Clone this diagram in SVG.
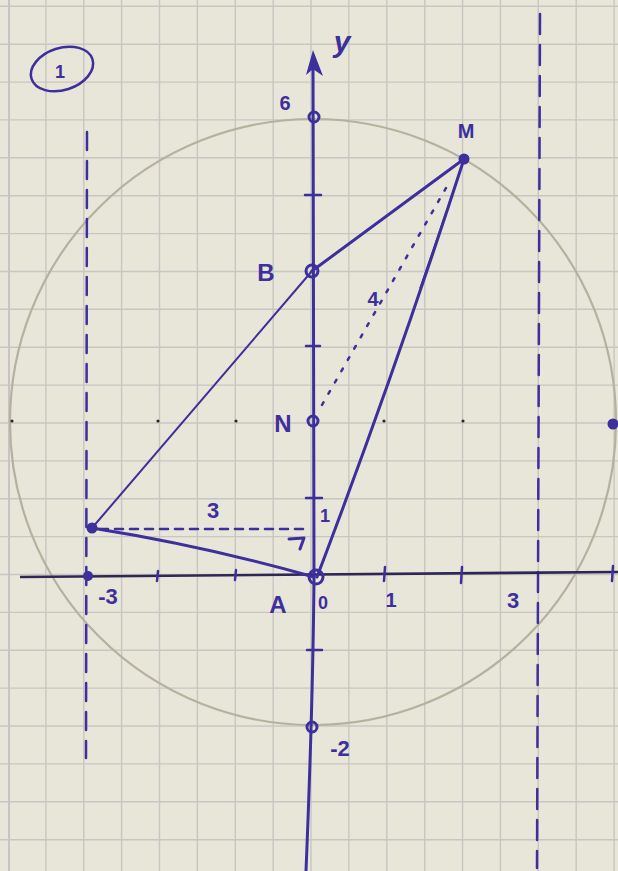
<svg xmlns="http://www.w3.org/2000/svg" width="618" height="871" viewBox="0 0 618 871">
<defs>
<style>
.grid{fill:none;stroke:#c8c6c0;stroke-width:1.4}
.ink{stroke:#3d2f9c;fill:none;stroke-linecap:round;stroke-linejoin:round}
.dot{fill:#3d2f9c}
.ring{fill:none;stroke:#3d2f9c;stroke-width:3}
.lbl{font-family:"Liberation Sans","DejaVu Sans",sans-serif;fill:#3d2f9c;text-anchor:middle;font-weight:bold}
.pen{fill:#2a2a2a}
</style>
</defs>
<rect width="618" height="871" fill="#e8e5d9"/>
<path class="grid" d="M45.9,0V871 M83.8,0V871 M121.6,0V871 M159.5,0V871 M197.4,0V871 M235.3,0V871 M273.2,0V871 M311,0V871 M348.9,0V871 M386.8,0V871 M424.7,0V871 M462.6,0V871 M500.4,0V871 M538.3,0V871 M576.2,0V871 M614.1,0V871
M0,6.3H618 M0,44.2H618 M0,82.1H618 M0,119.9H618 M0,157.8H618 M0,195.7H618 M0,233.6H618 M0,271.5H618 M0,309.3H618 M0,347.2H618 M0,385.1H618 M0,423H618 M0,460.9H618 M0,498.7H618 M0,536.6H618 M0,574.5H618 M0,612.4H618 M0,650.3H618 M0,688.1H618 M0,726H618 M0,763.9H618 M0,801.8H618 M0,839.7H618"/>
<line x1="9" y1="0" x2="9" y2="871" stroke="#c9c2c6" stroke-width="2"/>

<circle id="circle" cx="313" cy="422" r="303" fill="none" stroke="#b4b29e" stroke-width="2.2"/>

<g id="pencil-dots">
<circle class="pen" cx="12" cy="421" r="1.6"/>
<circle class="pen" cx="158" cy="421" r="1.6"/>
<circle class="pen" cx="236" cy="421" r="1.6"/>
<circle class="pen" cx="384" cy="421" r="1.6"/>
<circle class="pen" cx="463" cy="421" r="1.6"/>
</g>

<g id="asymptotes">
<line class="ink" x1="87" y1="132" x2="86" y2="758" stroke-width="2.5" stroke-dasharray="18 11"/>
<line class="ink" x1="540" y1="14" x2="537" y2="868" stroke-width="2.5" stroke-dasharray="20 11"/>
</g>

<g id="axes">
<path id="x-axis" d="M20,577 L618,572" stroke="#2e2756" stroke-width="2.6" fill="none"/>
<g id="x-ticks" class="ink" stroke-width="2.5">
<line x1="158" y1="571" x2="157" y2="581"/>
<line x1="236" y1="570" x2="235" y2="580"/>
<line x1="385" y1="567" x2="384" y2="581"/>
<line x1="462" y1="567" x2="461" y2="583"/>
<line x1="613" y1="566" x2="612" y2="581"/>
</g>
<path id="y-axis" class="ink" d="M313,60 L314,577 Q313,700 306,871" stroke-width="3"/>
<polygon class="dot" points="313,50 306,75 313,69 323,76"/>
<g id="y-ticks" class="ink" stroke-width="2.5">
<line x1="305" y1="195" x2="321" y2="195"/>
<line x1="306" y1="346" x2="320" y2="346"/>
<line x1="306" y1="498" x2="322" y2="498"/>
<line x1="307" y1="650" x2="322" y2="650"/>
</g>
</g>

<g id="connectors">
<line id="MB" class="ink" x1="464" y1="159" x2="312" y2="271" stroke-width="3"/>
<line id="BP" class="ink" x1="312" y1="271" x2="92" y2="528" stroke-width="2"/>
<path id="PA" class="ink" d="M92,528 Q205,546 314,577" stroke-width="3"/>
<path id="AM" class="ink" d="M317,577 Q395,372 464,159" stroke-width="3"/>
<line id="AM-thin" class="ink" x1="462" y1="166" x2="420" y2="288" stroke-width="1.3"/>
<line id="NM" class="ink" x1="322" y1="405" x2="446" y2="188" stroke-width="2.5" stroke-dasharray="3 10"/>
<line id="P-yaxis" class="ink" x1="100" y1="529" x2="310" y2="529" stroke-width="2.6" stroke-dasharray="8 7"/>
<path id="right-angle" class="ink" d="M289,539 L304,538 L300,549" stroke-width="3"/>
</g>

<g id="node-M"><circle class="dot" cx="464" cy="159" r="5.5"/><text class="lbl" x="466" y="138" font-size="20">M</text></g>
<g id="node-B"><circle class="ring" cx="312" cy="271" r="6"/><text class="lbl" x="266" y="281" font-size="24">B</text></g>
<g id="node-N"><circle class="ring" cx="313" cy="421" r="5"/><text class="lbl" x="283" y="432" font-size="24">N</text></g>
<g id="node-A"><circle class="ring" cx="316" cy="577" r="7"/><text class="lbl" x="278" y="613" font-size="24">A</text></g>
<g id="node-P"><circle class="dot" cx="92" cy="528" r="5.5"/></g>
<g id="node-six"><circle class="ring" cx="314" cy="117" r="5"/><text class="lbl" x="285" y="110" font-size="20">6</text></g>
<g id="node-minus2"><circle class="ring" cx="312" cy="727" r="5"/><text class="lbl" x="340" y="756" font-size="22">-2</text></g>
<g id="node-right"><circle class="dot" cx="613" cy="424" r="5.5"/></g>
<g id="node-minus3"><circle class="dot" cx="88" cy="576" r="5"/><text class="lbl" x="108" y="604" font-size="22">-3</text></g>

<g id="labels">
<text class="lbl" x="342" y="52" font-size="30" font-style="italic">y</text>
<text class="lbl" x="373" y="306" font-size="20">4</text>
<text class="lbl" x="213" y="518" font-size="22">3</text>
<text class="lbl" x="325" y="522" font-size="18">1</text>
<text class="lbl" x="323" y="609" font-size="18">0</text>
<text class="lbl" x="391" y="607" font-size="20">1</text>
<text class="lbl" x="513" y="608" font-size="22">3</text>
</g>

<g id="exercise-number">
<ellipse class="ink" cx="62" cy="69" rx="32" ry="21" transform="rotate(-18 62 69)" stroke-width="2.5"/>
<text class="lbl" x="60" y="78" font-size="18">1</text>
</g>
</svg>
